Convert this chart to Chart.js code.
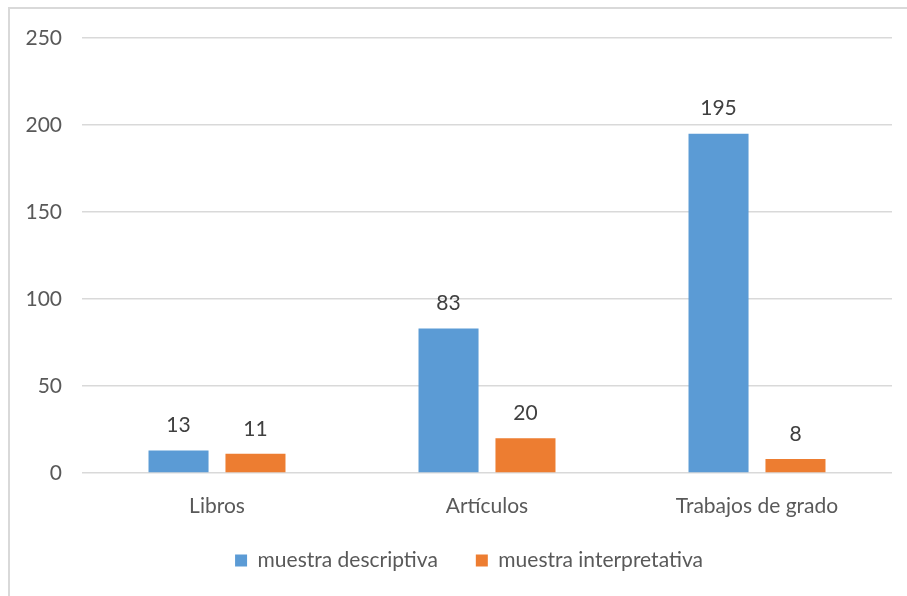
<!DOCTYPE html>
<html>
<head>
<meta charset="utf-8">
<script src="https://cdn.jsdelivr.net/npm/chart.js@4"></script>
<style>
  html, body { margin: 0; padding: 0; background: #fff; }
  #wrap { width: 907px; height: 596px; position: relative; }
</style>
</head>
<body>
<div id="wrap"><canvas id="chart" width="907" height="596"></canvas></div>
<script>
// --- data ---
const categories = ['Libros', 'Artículos', 'Trabajos de grado'];
const descriptiva = [13, 83, 195];
const interpretativa = [11, 20, 8];
const seriesNames = ['muestra descriptiva', 'muestra interpretativa'];
const yTicks = [0, 50, 100, 150, 200, 250];

const textColor = '#595959';
Chart.defaults.font.family = 'Lato, "Open Sans", sans-serif';
Chart.defaults.font.size = 21;
Chart.defaults.color = textColor;

// light frame around the chart (top + left edges visible)
const framePlugin = {
    id: 'frame',
    beforeDraw(chart) {
        const ctx = chart.ctx;
        ctx.save();
        ctx.strokeStyle = '#d9d9d9';
        ctx.lineWidth = 2;
        ctx.strokeRect(9, 8, 1000, 1000);
        ctx.restore();
    }
};

// move the legend box: centred a bit right of the canvas, like the original
const legendPlace = {
    id: 'legendPlace',
    afterLayout(chart) {
        const lg = chart.legend;
        if (!lg) return;
        const h = lg.height;
        lg.left = 46;
        lg.right = 892;
        lg.width = lg.right - lg.left;
        lg.top = 512;
        lg.bottom = lg.top + h;
    }
};

// value labels above each bar
const valueLabels = {
    id: 'valueLabels',
    afterDatasetsDraw(chart) {
        const ctx = chart.ctx;
        ctx.save();
        ctx.font = '21px Lato, "Open Sans", sans-serif';
        ctx.fillStyle = '#404040';
        ctx.textAlign = 'center';
        ctx.textBaseline = 'middle';
        chart.data.datasets.forEach((ds, i) => {
            chart.getDatasetMeta(i).data.forEach((bar, j) => {
                ctx.fillText(ds.data[j], bar.x, bar.y - 25);
            });
        });
        ctx.restore();
    }
};

new Chart(document.getElementById('chart'), {
    type: 'bar',
    data: {
        labels: categories,
        datasets: [
            { label: seriesNames[0], data: descriptiva, backgroundColor: '#5B9BD5', barPercentage: 0.78, categoryPercentage: 0.57 },
            { label: seriesNames[1], data: interpretativa, backgroundColor: '#ED7D31', barPercentage: 0.78, categoryPercentage: 0.57 }
        ]
    },
    options: {
        responsive: false,
        animation: false,
        layout: { padding: { left: 10, right: 15, top: 38, bottom: 6 } },
        plugins: {
            legend: {
                position: 'bottom',
                labels: { boxWidth: 12, boxHeight: 12, padding: 38, color: textColor }
            },
            tooltip: { enabled: false }
        },
        scales: {
            x: {
                grid: { display: false },
                border: { display: false },
                ticks: { padding: 13, color: textColor },
                afterFit(scale) { scale.height = 48; }
            },
            y: {
                min: 0, max: 250,
                afterBuildTicks(scale) { scale.ticks = yTicks.map(v => ({ value: v })); },
                grid: { color: '#d9d9d9', lineWidth: 1.5, drawTicks: false },
                border: { display: false },
                ticks: { padding: 20, color: textColor },
                afterFit(scale) { scale.width = 72; }
            }
        }
    },
    plugins: [framePlugin, legendPlace, valueLabels]
});
</script>
</body>
</html>
